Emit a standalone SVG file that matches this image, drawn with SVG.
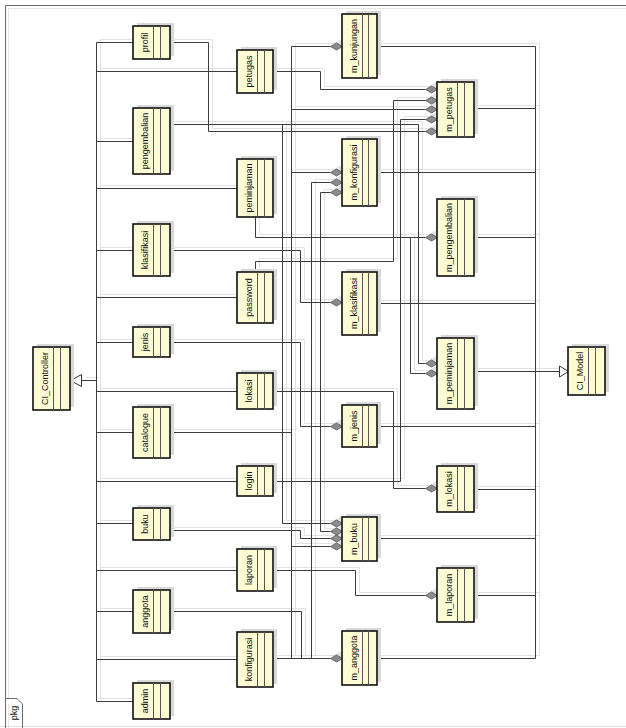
<svg xmlns="http://www.w3.org/2000/svg" xmlns:xlink="http://www.w3.org/1999/xlink" width="626" height="728" viewBox="0 0 626 728">
<style>
.sh{fill:#d9d9d9;stroke:none}
.box{fill:#fdfbd3;stroke:#111;stroke-width:1.6}
.dv{stroke:#555;stroke-width:1}
.lbl{font-family:"Liberation Sans",Arial,sans-serif;font-size:9px;fill:#111;text-anchor:middle;dominant-baseline:central}
.tri{fill:#fff;stroke:#333;stroke-width:1}
</style>
<defs>
<g id="n">
</g>
</defs>
<rect width="626" height="728" fill="#fff"/>
<g id="frame" fill="none">
<path d="M8,8.5 H626 M8.5,8 V728" stroke="#e6e6e6"/>
<path d="M0,726.5 H626" stroke="#e0e0e0"/>
<path d="M626,5.5 H5.5 V728" stroke="#6a6a6a"/>
<path d="M5.5,698.5 H17 L22.5,704 V728" fill="#fff" stroke="#6a6a6a"/>
<text class="lbl" transform="translate(14,713) rotate(-90)">pkg</text>
</g>
<g id="connectors" fill="none">
<use xlink:href="#wires" href="#wires" stroke="#e2e2e2" transform="translate(4,-3)"/>
<g stroke="#3c3c3c"><g id="wires" transform="translate(0.5,0.5)">
<path d="M96,42 V701 M96,380 H81"/>
<path d="M133,42 H96 M133,141 H96 M133,250 H96 M133,342 H96 M133,432 H96 M133,523 H96 M133,611 H96 M133,701 H96"/>
<path d="M237,71 H96 M237,188 H96 M237,297 H96 M237,391 H96 M237,481 H96 M237,570 H96 M237,659 H96"/>
<path d="M535,46 V658 M535,371 H559 M474,371 H535"/>
<path d="M377,46 H535 M474,108 H535 M377,172 H535 M474,237 H535 M377,303 H535 M377,426 H535 M474,489 H535 M377,538 H535 M474,595 H535 M377,658 H535"/>
<path d="M170,42 H208 V131 H425"/>
<path d="M273,71 H320 V89 H425"/>
<path d="M255,272 V261 H393 V100 H425"/>
<path d="M273,658 H330 M291,658 V46 H330 M291,109 H425 M291,172 H330 M291,546 H330 M311,658 V182 H330 M170,432 H291"/>
<path d="M273,481 H400 V119 H425"/>
<path d="M170,124 H418 V363 H425 M282,124 V523 H330"/>
<path d="M255,217 V237 H410 V373 H425 M410,237 H425"/>
<path d="M170,250 H300 V302 H330"/>
<path d="M170,342 H300 V426 H330"/>
<path d="M273,391 H393 V488 H425"/>
<path d="M170,530 H300 V538 H330"/>
<path d="M330,192 H320 V531 H330"/>
<path d="M273,570 H355 V595 H425"/>
<path d="M170,611 H301 V658"/>
</g></g>
<use xlink:href="#heads" href="#heads" fill="#e2e2e2" stroke="#e2e2e2" transform="translate(4,-3)"/>
<g fill="#8c8c8c" stroke="#555" stroke-width="0.8"><g id="heads" transform="translate(0.5,0.5)">
<path d="M330,46 l6,-3.5 l6,3.5 l-6,3.5z M330,172 l6,-3.5 l6,3.5 l-6,3.5z M330,182 l6,-3.5 l6,3.5 l-6,3.5z M330,192 l6,-3.5 l6,3.5 l-6,3.5z M330,302 l6,-3.5 l6,3.5 l-6,3.5z M330,426 l6,-3.5 l6,3.5 l-6,3.5z M330,523 l6,-3.5 l6,3.5 l-6,3.5z M330,531 l6,-3.5 l6,3.5 l-6,3.5z M330,538 l6,-3.5 l6,3.5 l-6,3.5z M330,546 l6,-3.5 l6,3.5 l-6,3.5z M330,658 l6,-3.5 l6,3.5 l-6,3.5z"/>
<path d="M425,89 l6,-3.5 l6,3.5 l-6,3.5z M425,100 l6,-3.5 l6,3.5 l-6,3.5z M425,109 l6,-3.5 l6,3.5 l-6,3.5z M425,119 l6,-3.5 l6,3.5 l-6,3.5z M425,131 l6,-3.5 l6,3.5 l-6,3.5z M425,237 l6,-3.5 l6,3.5 l-6,3.5z M425,363 l6,-3.5 l6,3.5 l-6,3.5z M425,373 l6,-3.5 l6,3.5 l-6,3.5z M425,488 l6,-3.5 l6,3.5 l-6,3.5z M425,595 l6,-3.5 l6,3.5 l-6,3.5z"/>
</g></g>
<path class="tri" d="M70.5,380.5 L81.5,374.5 L81.5,386.5 Z"/>
<path class="tri" d="M568.5,371.5 L559.5,366 L559.5,377 Z"/>
</g>

<g id="CI_Controller"><rect class="sh" x="37" y="344" width="37" height="63"/><rect class="box" x="33" y="347" width="37" height="63"/><path class="dv" d="M53.5,347 V410 M60.5,347 V410"/><text class="lbl" transform="translate(45,378.5) rotate(-90)">CI_Controller</text></g>
<g id="CI_Model"><rect class="sh" x="572" y="344" width="37" height="48"/><rect class="box" x="568" y="347" width="37" height="48"/><path class="dv" d="M588.5,347 V395 M595.5,347 V395"/><text class="lbl" transform="translate(580,371) rotate(-90)">CI_Model</text></g>

<g id="profil"><rect class="sh" x="137" y="23" width="37" height="33"/><rect class="box" x="133" y="26" width="37" height="33"/><path class="dv" d="M153.5,26 V59 M160.5,26 V59"/><text class="lbl" transform="translate(145,42.5) rotate(-90)">profil</text></g>
<g id="pengembalian"><rect class="sh" x="137" y="105" width="37" height="66"/><rect class="box" x="133" y="108" width="37" height="66"/><path class="dv" d="M153.5,108 V174 M160.5,108 V174"/><text class="lbl" transform="translate(145,141) rotate(-90)">pengembalian</text></g>
<g id="klasifikasi"><rect class="sh" x="137" y="221" width="37" height="52"/><rect class="box" x="133" y="224" width="37" height="52"/><path class="dv" d="M153.5,224 V276 M160.5,224 V276"/><text class="lbl" transform="translate(145,250) rotate(-90)">klasifikasi</text></g>
<g id="jenis"><rect class="sh" x="137" y="324" width="37" height="30"/><rect class="box" x="133" y="327" width="37" height="30"/><path class="dv" d="M153.5,327 V357 M160.5,327 V357"/><text class="lbl" transform="translate(145,342) rotate(-90)">jenis</text></g>
<g id="catalogue"><rect class="sh" x="137" y="404" width="37" height="51"/><rect class="box" x="133" y="407" width="37" height="51"/><path class="dv" d="M153.5,407 V458 M160.5,407 V458"/><text class="lbl" transform="translate(145,432.5) rotate(-90)">catalogue</text></g>
<g id="buku"><rect class="sh" x="137" y="505" width="37" height="32"/><rect class="box" x="133" y="508" width="37" height="32"/><path class="dv" d="M153.5,508 V540 M160.5,508 V540"/><text class="lbl" transform="translate(145,524) rotate(-90)">buku</text></g>
<g id="anggota"><rect class="sh" x="137" y="587" width="37" height="43"/><rect class="box" x="133" y="590" width="37" height="43"/><path class="dv" d="M153.5,590 V633 M160.5,590 V633"/><text class="lbl" transform="translate(145,611.5) rotate(-90)">anggota</text></g>
<g id="admin"><rect class="sh" x="137" y="680" width="37" height="36"/><rect class="box" x="133" y="683" width="37" height="36"/><path class="dv" d="M153.5,683 V719 M160.5,683 V719"/><text class="lbl" transform="translate(145,701) rotate(-90)">admin</text></g>

<g id="petugas"><rect class="sh" x="241" y="47" width="36" height="43"/><rect class="box" x="237" y="50" width="36" height="43"/><path class="dv" d="M257.5,50 V93 M264.5,50 V93"/><text class="lbl" transform="translate(249,71.5) rotate(-90)">petugas</text></g>
<g id="peminjaman"><rect class="sh" x="241" y="156" width="36" height="58"/><rect class="box" x="237" y="159" width="36" height="58"/><path class="dv" d="M257.5,159 V217 M264.5,159 V217"/><text class="lbl" transform="translate(249,188) rotate(-90)">peminjaman</text></g>
<g id="password"><rect class="sh" x="241" y="269" width="36" height="51"/><rect class="box" x="237" y="272" width="36" height="51"/><path class="dv" d="M257.5,272 V323 M264.5,272 V323"/><text class="lbl" transform="translate(249,297.5) rotate(-90)">password</text></g>
<g id="lokasi"><rect class="sh" x="241" y="370" width="36" height="36"/><rect class="box" x="237" y="373" width="36" height="36"/><path class="dv" d="M257.5,373 V409 M264.5,373 V409"/><text class="lbl" transform="translate(249,391) rotate(-90)">lokasi</text></g>
<g id="login"><rect class="sh" x="241" y="463" width="36" height="30"/><rect class="box" x="237" y="466" width="36" height="30"/><path class="dv" d="M257.5,466 V496 M264.5,466 V496"/><text class="lbl" transform="translate(249,481) rotate(-90)">login</text></g>
<g id="laporan"><rect class="sh" x="241" y="546" width="36" height="42"/><rect class="box" x="237" y="549" width="36" height="42"/><path class="dv" d="M257.5,549 V591 M264.5,549 V591"/><text class="lbl" transform="translate(249,570) rotate(-90)">laporan</text></g>
<g id="konfigurasi"><rect class="sh" x="241" y="629" width="36" height="55"/><rect class="box" x="237" y="632" width="36" height="55"/><path class="dv" d="M257.5,632 V687 M264.5,632 V687"/><text class="lbl" transform="translate(249,659.5) rotate(-90)">konfigurasi</text></g>

<g id="m_kunjungan"><rect class="sh" x="346" y="11" width="35" height="64"/><rect class="box" x="342" y="14" width="35" height="64"/><path class="dv" d="M362.5,14 V78 M368.5,14 V78"/><text class="lbl" transform="translate(354,46) rotate(-90)">m_kunjungan</text></g>
<g id="m_konfigurasi"><rect class="sh" x="346" y="136" width="35" height="67"/><rect class="box" x="342" y="139" width="35" height="67"/><path class="dv" d="M362.5,139 V206 M368.5,139 V206"/><text class="lbl" transform="translate(354,172.5) rotate(-90)">m_konfigurasi</text></g>
<g id="m_klasifikasi"><rect class="sh" x="346" y="269" width="35" height="63"/><rect class="box" x="342" y="272" width="35" height="63"/><path class="dv" d="M362.5,272 V335 M368.5,272 V335"/><text class="lbl" transform="translate(354,303.5) rotate(-90)">m_klasifikasi</text></g>
<g id="m_jenis"><rect class="sh" x="346" y="402" width="35" height="42"/><rect class="box" x="342" y="405" width="35" height="42"/><path class="dv" d="M362.5,405 V447 M368.5,405 V447"/><text class="lbl" transform="translate(354,426) rotate(-90)">m_jenis</text></g>
<g id="m_buku"><rect class="sh" x="346" y="514" width="35" height="44"/><rect class="box" x="342" y="517" width="35" height="44"/><path class="dv" d="M362.5,517 V561 M368.5,517 V561"/><text class="lbl" transform="translate(354,539) rotate(-90)">m_buku</text></g>
<g id="m_anggota"><rect class="sh" x="346" y="628" width="35" height="54"/><rect class="box" x="342" y="631" width="35" height="54"/><path class="dv" d="M362.5,631 V685 M368.5,631 V685"/><text class="lbl" transform="translate(354,658) rotate(-90)">m_anggota</text></g>

<g id="m_petugas"><rect class="sh" x="441" y="79" width="37" height="55"/><rect class="box" x="437" y="82" width="37" height="55"/><path class="dv" d="M457.5,82 V137 M464.5,82 V137"/><text class="lbl" transform="translate(449,109.5) rotate(-90)">m_petugas</text></g>
<g id="m_pengembalian"><rect class="sh" x="441" y="196" width="37" height="77"/><rect class="box" x="437" y="199" width="37" height="77"/><path class="dv" d="M457.5,199 V276 M464.5,199 V276"/><text class="lbl" transform="translate(449,237.5) rotate(-90)">m_pengembalian</text></g>
<g id="m_peminjaman"><rect class="sh" x="441" y="335" width="37" height="71"/><rect class="box" x="437" y="338" width="37" height="71"/><path class="dv" d="M457.5,338 V409 M464.5,338 V409"/><text class="lbl" transform="translate(449,373.5) rotate(-90)">m_peminjaman</text></g>
<g id="m_lokasi"><rect class="sh" x="441" y="463" width="37" height="46"/><rect class="box" x="437" y="466" width="37" height="46"/><path class="dv" d="M457.5,466 V512 M464.5,466 V512"/><text class="lbl" transform="translate(449,489) rotate(-90)">m_lokasi</text></g>
<g id="m_laporan"><rect class="sh" x="441" y="565" width="37" height="54"/><rect class="box" x="437" y="568" width="37" height="54"/><path class="dv" d="M457.5,568 V622 M464.5,568 V622"/><text class="lbl" transform="translate(449,595) rotate(-90)">m_laporan</text></g>
</svg>
